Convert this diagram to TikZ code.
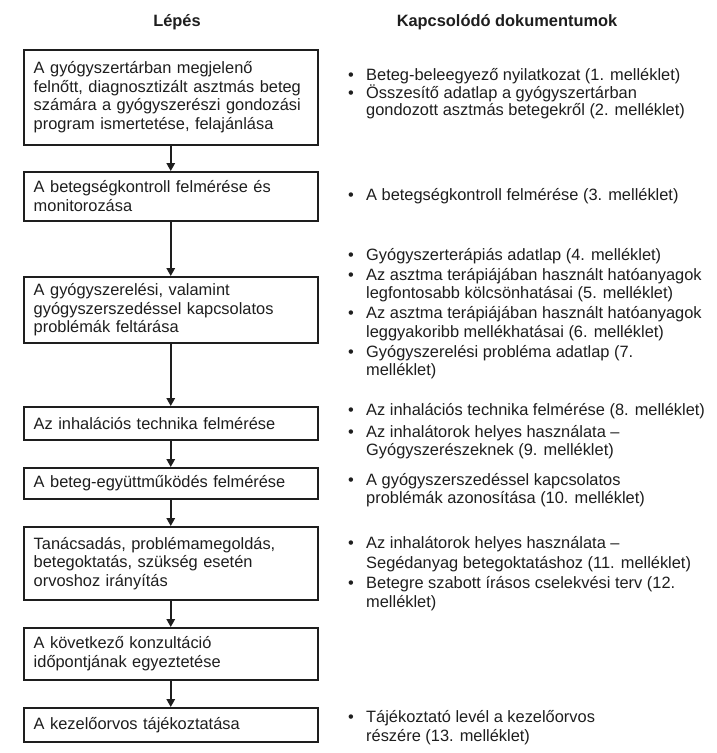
\documentclass[tikz,border=0pt]{standalone}
\usepackage{fontspec}
\setmainfont{Liberation Sans}
\usetikzlibrary{arrows.meta}
\definecolor{ink}{HTML}{1E1E1E}
\begin{document}
\begin{tikzpicture}[x=1pt,y=-1pt,
  stepbox/.style={draw=ink, line width=1.5pt, text=ink, anchor=north west,
    inner xsep=10pt, inner ysep=0pt, text width=274pt, minimum width=294pt,
    align=left, font=\fontsize{16.4}{18.5}\selectfont},
  doc/.style={text=ink, inner sep=0pt, font=\fontsize{16.4}{18.5}\selectfont},
  headtxt/.style={text=ink, inner sep=0pt, anchor=base, font=\fontsize{16.4}{18.5}\selectfont\bfseries},
  flow/.style={draw=ink, line width=1.6pt, -{Triangle[width=8.5pt,length=8pt]}}]
\useasboundingbox (0,0) rectangle (716,753);
\fill[white] (0,0) rectangle (716,753);

\node[headtxt] (h1) at (177,26) {Lépés};
\node[headtxt] (h2) at (507,26) {Kapcsolódó dokumentumok};

\node[stepbox, minimum height=95pt] (b1) at (23,49) {A gyógyszertárban megjelenő\\ felnőtt, diagnosztizált asztmás beteg\\ számára a gyógyszerészi gondozási\\ program ismertetése, felajánlása};
\node[stepbox, minimum height=49pt] (b2) at (23,171) {A betegségkontroll felmérése és\\ monitorozása};
\node[stepbox, minimum height=66pt] (b3) at (23,276) {A gyógyszerelési, valamint\\ gyógyszerszedéssel kapcsolatos\\ problémák feltárása};
\node[stepbox, minimum height=33pt] (b4) at (23,406) {Az inhalációs technika felmérése};
\node[stepbox, minimum height=31pt] (b5) at (23,467) {A beteg-együttműködés felmérése};
\node[stepbox, minimum height=73pt] (b6) at (23,526) {Tanácsadás, problémamegoldás,\\ betegoktatás, szükség esetén\\ orvoshoz irányítás};
\node[stepbox, minimum height=52pt] (b7) at (23,627) {A következő konzultáció\\ időpontjának egyeztetése};
\node[stepbox, minimum height=34pt] (b8) at (23,707) {A kezelőorvos tájékoztatása};

\draw[flow] (b1.south) -- (b2.north);
\draw[flow] (b2.south) -- (b3.north);
\draw[flow] (b3.south) -- (b4.north);
\draw[flow] (b4.south) -- (b5.north);
\draw[flow] (b5.south) -- (b6.north);
\draw[flow] (b6.south) -- (b7.north);
\draw[flow] (b7.south) -- (b8.north);

\foreach \yy/\bb/\tt [count=\i] in {
  80.5/1/Beteg-beleegyező nyilatkozat (1. melléklet),
  98.5/1/Összesítő adatlap a gyógyszertárban,
  115.5/0/gondozott asztmás betegekről (2. melléklet),
  200.5/1/A betegségkontroll felmérése (3. melléklet),
  260.5/1/Gyógyszerterápiás adatlap (4. melléklet),
  280.5/1/Az asztma terápiájában használt hatóanyagok,
  298.5/0/legfontosabb kölcsönhatásai (5. melléklet),
  318.5/1/Az asztma terápiájában használt hatóanyagok,
  337.5/0/leggyakoribb mellékhatásai (6. melléklet),
  357.5/1/Gyógyszerelési probléma adatlap (7.,
  375.5/0/melléklet),
  415.5/1/Az inhalációs technika felmérése (8. melléklet),
  437.5/1/Az inhalátorok helyes használata –,
  455.5/0/Gyógyszerészeknek (9. melléklet),
  485.5/1/A gyógyszerszedéssel kapcsolatos,
  503.5/0/problémák azonosítása (10. melléklet),
  548.5/1/Az inhalátorok helyes használata –,
  568.5/0/Segédanyag betegoktatáshoz (11. melléklet),
  588.5/1/Betegre szabott írásos cselekvési terv (12.,
  607.5/0/melléklet),
  722.5/1/Tájékoztató levél a kezelőorvos,
  741.5/0/részére (13. melléklet)}{
  \node[doc, anchor=base west] (d\i) at (366,\yy) {\tt};
  \ifnum\bb=1 \node[doc, anchor=base] (u\i) at (351,\yy) {•};\fi
}
\end{tikzpicture}
\end{document}
